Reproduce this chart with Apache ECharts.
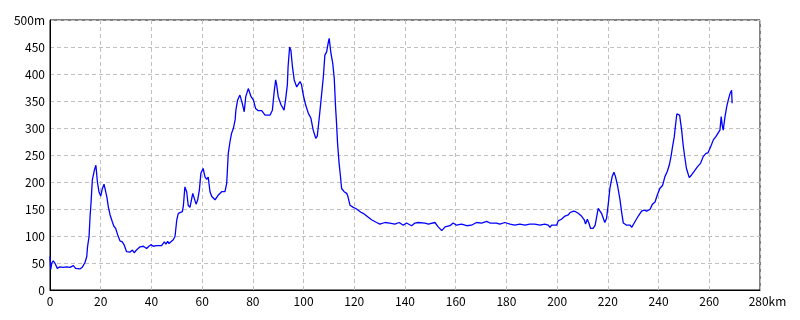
<!DOCTYPE html>
<html><head><meta charset="utf-8">
<script src="https://cdn.jsdelivr.net/npm/echarts@6/dist/echarts.min.js"></script>
<style>html,body{margin:0;padding:0;background:#fff}#c{width:800px;height:320px}</style>
</head><body><div id="c"></div>
<script>
// distance along route (km)
const distKm = [0,0.3,0.7,1.3,1.9,2.9,3.9,5.2,6.6,7.9,9.2,10.1,11.8,12.7,13.8,14.5,14.8,15.4,15.8,16.2,16.7,17.5,18.1,18.7,19.3,20,20.6,21.3,22,22.4,23,23.7,24.6,25.2,25.9,26.7,27.6,28.5,29.3,30.2,31.5,32.5,33.2,34.1,35.5,36.8,37.4,38.1,39,39.8,40.7,42,44,45.1,45.7,46.4,46.9,47.6,48.6,49.3,50,50.6,51.3,52.2,52.6,53.2,53.9,54.5,55.2,56.3,56.9,57.6,58.2,58.9,59.5,60.4,61.1,61.8,62.4,63.1,63.8,65.1,66.4,67.7,69,69.7,70.3,71,71.6,72.3,73,73.3,74,74.9,75.8,76.6,77.2,78.2,79.3,80.2,81.1,82.1,83.5,84.8,86.8,87.7,88.4,89,89.4,90,91.1,92.3,92.9,93.6,93.9,94.5,95,95.6,96.3,97.3,97.9,98.6,99.2,99.9,100.8,101.9,102.9,103.8,104.8,105.4,106.1,106.9,107.8,108.4,109.1,109.8,110.1,110.8,111.5,112.1,112.6,113,113.4,114,114.5,115,116,117,117.5,118.3,119.6,120.9,122.6,123.5,124.2,124.9,126.8,128.8,130.1,132.1,134,136,137.7,139.3,140.6,142.6,143.9,145.2,147.9,149.2,151.8,153.1,154.5,155.8,157.7,159,160.3,162.3,164.3,166.2,168.2,170.2,172.2,173.5,176.1,177.4,179.4,181.4,183.3,185.3,187.3,189.2,191.2,193.2,195.1,196.5,197.2,197.8,199.8,200.4,201.7,203.1,204.4,205,206.4,207.3,208.3,209.6,210.7,211.2,211.9,212.5,213.2,214.2,215,215.6,216.2,216.9,217.5,218.2,218.8,219.5,220.2,220.8,221.7,222.4,223,223.8,224.8,225.4,226.1,227.4,228.8,229.4,230.5,232,233.3,234.4,235.3,236.6,237.6,238.6,239.5,240.5,241.6,242.5,243.4,244.2,244.9,245.5,246.2,246.7,247.2,247.9,248.3,249.1,249.7,250.4,251,252.1,253,254.1,255.3,256.6,257.6,258.7,259.5,260.5,261.6,262.6,263.5,264.2,264.7,265.1,265.5,266.2,266.9,267.5,268.2,268.8,269];
// elevation (m)
const elevM = [62,38,50,54,50,40,43,42,43,42,45,40,39,42,51,62,80,99,136,163,204,222,231,200,182,174,187,196,195,173,154,139,126,118,114,102,91,89,83,71,70,74,69,74,80,81,83,77,81,84,81,82,82,89,85,90,86,86,93,99,130,142,143,145,156,191,182,157,153,179,178,159,166,185,216,225,210,205,209,182,173,167,176,182,182,198,253,275,290,299,315,333,352,361,346,330,358,373,358,352,336,332,332,324,324,333,367,389,380,358,343,333,352,380,414,450,444,414,389,376,375,386,380,361,343,327,318,296,281,285,315,352,395,435,441,460,466,438,420,392,340,309,272,235,213,188,182,179,173,157,153,150,144,142,139,137,130,125,122,125,124,122,125,120,124,119,124,125,124,122,125,117,110,117,119,124,120,122,119,120,125,124,127,124,124,122,125,122,120,122,120,122,122,120,122,120,116,120,120,128,131,137,139,143,146,145,142,137,130,122,131,124,114,114,120,136,151,146,142,133,125,133,161,188,210,218,210,194,167,145,124,120,120,116,125,137,146,148,146,149,159,163,176,188,194,210,219,231,247,265,284,306,326,329,324,296,268,244,225,208,213,220,228,235,247,253,254,265,278,284,291,296,321,305,296,321,340,352,364,370,346];
const xTicks = {min:0, max:280, step:20, unit:'km'};
const yTicks = {min:0, max:500, step:50, unit:'m'};

const series = distKm.map((d,i)=>[d, elevM[i]]);
const font = '"Noto Sans CJK JP", "DejaVu Sans", sans-serif';
const chart = echarts.init(document.getElementById('c'), null, {renderer:'canvas'});
chart.setOption({
  animation:false,
  backgroundColor:'#fff',
  grid:{left:50,right:40,top:20,bottom:30,show:true,borderColor:'#000',borderWidth:1,backgroundColor:'#fff'},
  xAxis:{type:'value',min:xTicks.min,max:xTicks.max,interval:xTicks.step,
    axisLine:{lineStyle:{color:'#000',width:1}},axisTick:{show:false},
    splitLine:{show:true,lineStyle:{color:'#c0c0c0',type:[4,3],width:1}},
    axisLabel:{color:'#000',fontFamily:font,fontSize:12,margin:5,
      formatter:v=> v===xTicks.max ? '{u|'+v+xTicks.unit+'}' : String(v),
      rich:{u:{color:'#000',fontFamily:font,fontSize:12,padding:[0,0,0,15]}}}},
  yAxis:{type:'value',min:yTicks.min,max:yTicks.max,interval:yTicks.step,
    axisLine:{show:true,lineStyle:{color:'#000',width:1}},axisTick:{show:false},
    splitLine:{show:true,lineStyle:{color:'#c0c0c0',type:[4,3],width:1}},
    axisLabel:{color:'#000',fontFamily:font,fontSize:12,margin:5,
      formatter:v=> v===yTicks.max ? v+yTicks.unit : String(v)}},
  series:[{type:'line',data:series,showSymbol:false,symbol:'none',
    lineStyle:{color:'#0000ff',width:1.3},smooth:false}]
});
</script></body></html>
